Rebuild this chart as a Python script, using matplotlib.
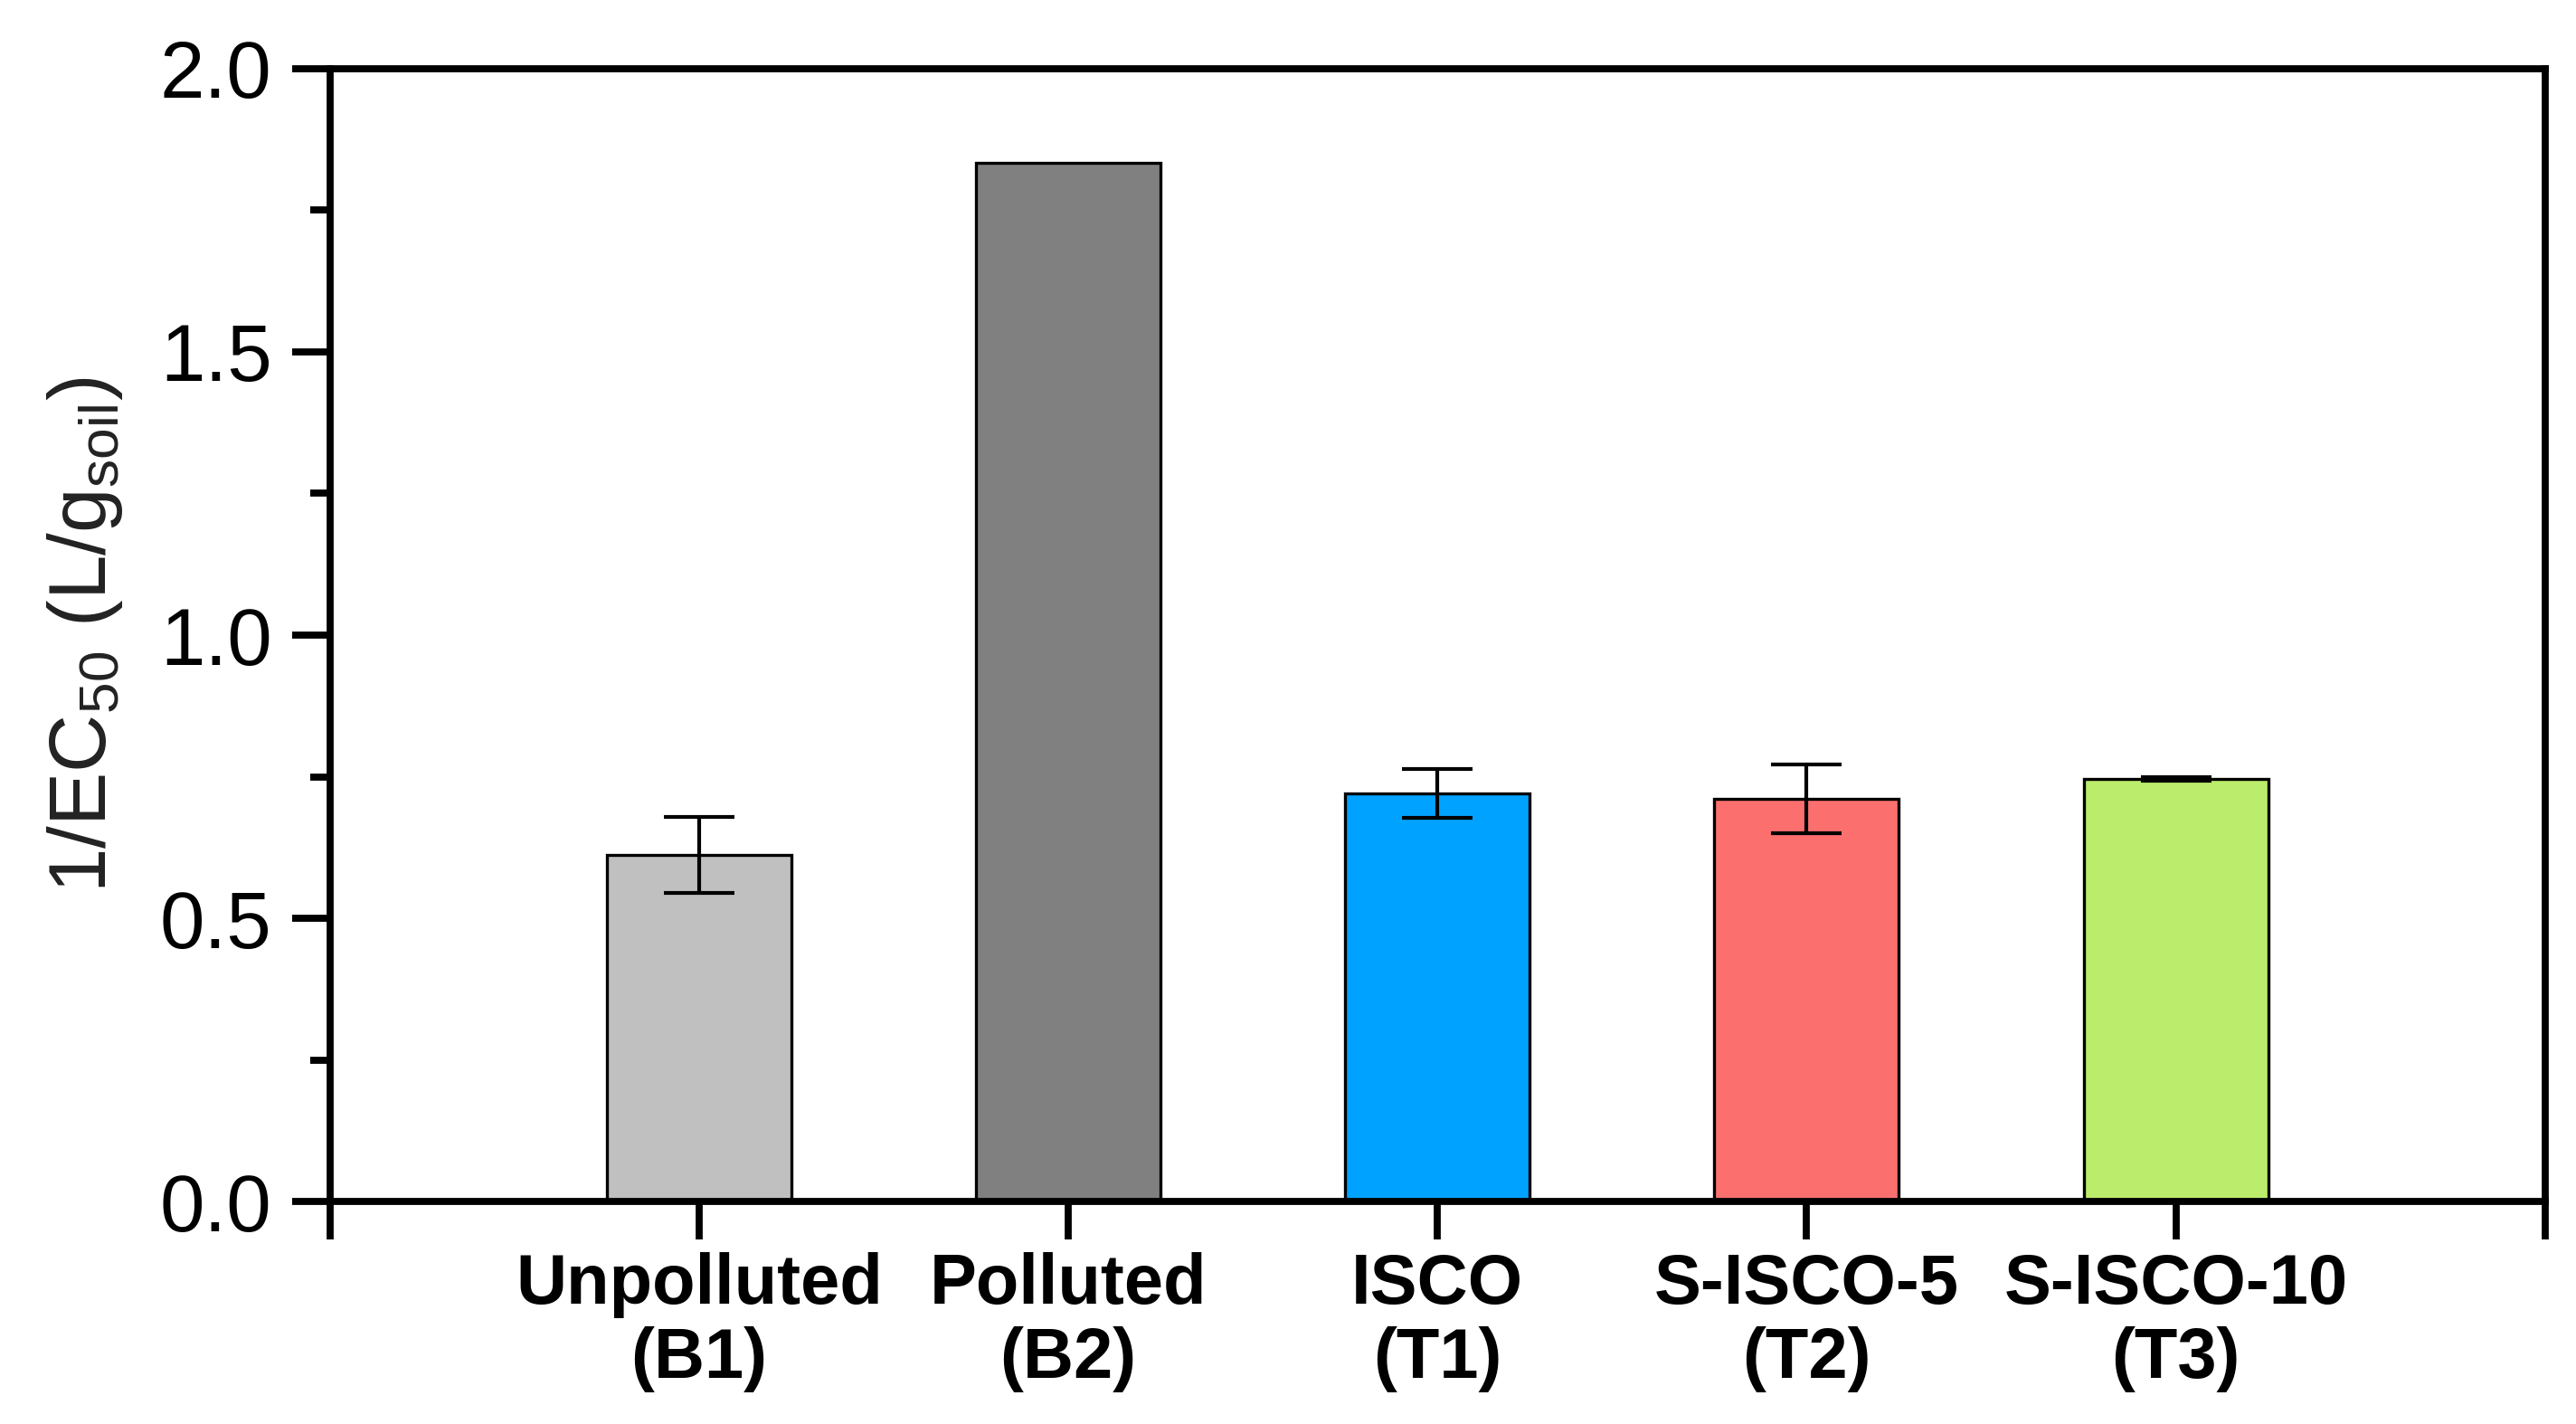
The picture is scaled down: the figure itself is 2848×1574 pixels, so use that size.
import numpy as np
import matplotlib
matplotlib.use("Agg")
import matplotlib.pyplot as plt
from matplotlib import ticker

# ——— 字体 ———
plt.rcParams['font.family'] = ['Liberation Sans', 'DejaVu Sans']
plt.rcParams['mathtext.fontset'] = 'custom'
plt.rcParams['mathtext.rm'] = 'Liberation Sans'
plt.rcParams['mathtext.it'] = 'Liberation Sans'

# ——— 数据 ———
categories = ['Unpolluted\n(B1)', 'Polluted\n(B2)', 'ISCO\n(T1)', 'S-ISCO-5\n(T2)', 'S-ISCO-10\n(T3)']
values = np.array([0.612, 1.834, 0.720, 0.711, 0.746])
errors = np.array([0.067, 0.0, 0.043, 0.060, 0.003])
colors = ['#C0C0C0', '#808080', '#00A2FF', '#FC6F6F', '#BBEC6C']

x_pos = np.arange(1, len(categories) + 1)

fig = plt.figure(figsize=(14.24, 7.87), dpi=200)
ax = fig.add_axes([0.128, 0.156, 0.860, 0.796])

ax.bar(x_pos, values, width=0.5, color=colors, edgecolor='black', linewidth=1.2, zorder=2)
mask = errors > 0
ax.errorbar(x_pos[mask], values[mask], yerr=errors[mask], fmt='none',
            ecolor='black', elinewidth=1.5, capsize=14, capthick=1.5, zorder=3)

ax.set_xlim(0, 6)
ax.set_ylim(0, 2.0)

# x 轴刻度：0..6，只在 1..5 标注
ax.set_xticks(np.arange(0, 7))
ax.set_xticklabels([''] + categories + [''], fontsize=28, fontweight='bold', linespacing=1.15)

ax.yaxis.set_major_locator(ticker.MultipleLocator(0.5))
ax.yaxis.set_minor_locator(ticker.MultipleLocator(0.25))
ax.yaxis.set_major_formatter(ticker.FormatStrFormatter('%.1f'))
ax.tick_params(axis='y', which='major', direction='out', length=15, width=2.8, labelsize=32, pad=8)
ax.tick_params(axis='y', which='minor', direction='out', length=8, width=2.8)
ax.tick_params(axis='x', which='major', direction='out', length=15, width=2.8, pad=5)

for s in ax.spines.values():
    s.set_linewidth(2.8)

ax.set_ylabel(r'1/EC$_{50}$ (L/g$_{soil}$)', fontsize=32, color='#222222', labelpad=14)

fig.savefig('out.png', dpi=200)
plt.close(fig)
